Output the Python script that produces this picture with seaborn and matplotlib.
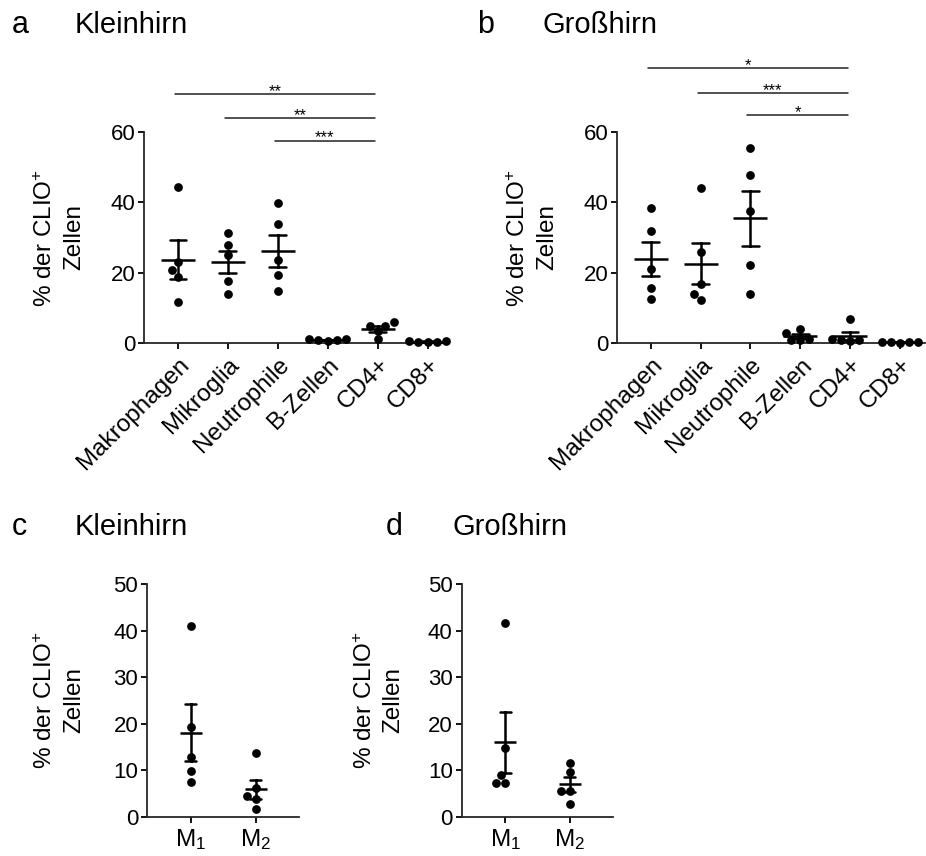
import numpy as np
import pandas as pd
import matplotlib
matplotlib.use("Agg")
import matplotlib.pyplot as plt
import seaborn as sns

# ---------------- data ----------------
cell_types = ["Makrophagen", "Mikroglia", "Neutrophile", "B-Zellen", "CD4+", "CD8+"]

# panel a: Kleinhirn
a_makrophagen = [44.2, 23.1, 20.8, 18.9, 11.8]
a_mikroglia = [31.2, 27.8, 25.0, 17.6, 13.9]
a_neutrophile = [39.7, 33.7, 23.6, 19.3, 14.8]
a_bzellen = [1.2, 0.9, 0.6, 1.1, 0.8]
a_cd4 = [6.0, 4.8, 5.0, 3.6, 1.1]
a_cd8 = [0.6, 0.4, 0.5, 0.3, 0.7]

# panel b: Großhirn
b_makrophagen = [38.3, 31.8, 21.1, 15.8, 12.6]
b_mikroglia = [44.1, 25.8, 16.8, 14.0, 12.3]
b_neutrophile = [55.5, 47.6, 37.6, 22.2, 14.1]
b_bzellen = [4.1, 3.0, 1.2, 1.0, 0.8]
b_cd4 = [6.8, 1.2, 1.0, 0.8, 0.6]
b_cd8 = [0.4, 0.3, 0.2, 0.3, 0.4]

macro_types = ["M1", "M2"]
macro_labels = ["M$_1$", "M$_2$"]
# panel c: Kleinhirn
c_m1 = [40.9, 19.2, 12.9, 9.9, 7.5]
c_m2 = [13.6, 6.2, 4.4, 3.7, 1.7]
# panel d: Großhirn
d_m1 = [41.7, 14.7, 9.0, 7.3, 7.3]
d_m2 = [11.6, 9.6, 5.5, 5.5, 2.7]

# significance brackets (start category, end category, label)
a_sig_start = [0, 1, 2]
a_sig_end = [4, 4, 4]
a_sig_text = ["**", "**", "***"]
b_sig_start = [0, 1, 2]
b_sig_end = [4, 4, 4]
b_sig_text = ["*", "***", "*"]


def to_frame(cats, series):
    rows = []
    for c, vals in zip(cats, series):
        for v in vals:
            rows.append((c, v))
    return pd.DataFrame(rows, columns=["cat", "val"])


df_a = to_frame(cell_types, [a_makrophagen, a_mikroglia, a_neutrophile, a_bzellen, a_cd4, a_cd8])
df_b = to_frame(cell_types, [b_makrophagen, b_mikroglia, b_neutrophile, b_bzellen, b_cd4, b_cd8])
df_c = to_frame(macro_types, [c_m1, c_m2])
df_d = to_frame(macro_types, [d_m1, d_m2])

# ---------------- style ----------------
sns.set_theme(style="ticks")
plt.rcParams["font.family"] = ["Liberation Sans", "DejaVu Sans"]
plt.rcParams["mathtext.fontset"] = "custom"
plt.rcParams["mathtext.rm"] = "Liberation Sans"
plt.rcParams["mathtext.it"] = "Liberation Sans:italic"
plt.rcParams["mathtext.bf"] = "Liberation Sans:bold"
plt.rcParams["axes.linewidth"] = 1.3
plt.rcParams["xtick.major.width"] = 1.3
plt.rcParams["ytick.major.width"] = 1.3
plt.rcParams["xtick.major.size"] = 4.5
plt.rcParams["ytick.major.size"] = 4.5
plt.rcParams["text.color"] = "black"
plt.rcParams["axes.labelcolor"] = "black"
plt.rcParams["xtick.color"] = "black"
plt.rcParams["ytick.color"] = "black"

W, H = 926, 856
fig = plt.figure(figsize=(W / 100, H / 100), dpi=100)


def px_axes(left, top, right, bottom):
    return fig.add_axes([left / W, 1 - bottom / H, (right - left) / W, (bottom - top) / H])


ax_a = px_axes(144.3, 131.7, 445, 343.3)
ax_b = px_axes(617.3, 131.7, 925, 343.3)
ax_c = px_axes(147.3, 584, 299.3, 816.7)
ax_d = px_axes(461.7, 584, 613.3, 816.7)

TICK_FS = 16
LABEL_FS = 17.5


def draw_panel(ax, df, order, labels, ymax, ystep, xlim, mean_w, capsize, rotate):
    sns.swarmplot(data=df, x="cat", y="val", order=order, color="black", size=6.3,
                  ax=ax, zorder=3)
    sns.pointplot(data=df, x="cat", y="val", order=order, errorbar="se", capsize=capsize,
                  color="black", markers="_", linestyles="none", markersize=mean_w,
                  markeredgewidth=1.8, err_kws={"linewidth": 1.8}, ax=ax, zorder=4)
    for coll in ax.collections:
        coll.set_clip_on(False)
    for ln in ax.lines:
        ln.set_clip_on(False)
    ax.set_ylim(0, ymax)
    ax.set_yticks(np.arange(0, ymax + 1, ystep))
    ax.set_xlim(*xlim)
    ax.set_xticks(range(len(order)))
    if rotate:
        ax.set_xticklabels(labels, rotation=45, ha="right", rotation_mode="anchor",
                           fontsize=LABEL_FS)
    else:
        ax.set_xticklabels(labels, fontsize=LABEL_FS)
    ax.tick_params(axis="y", labelsize=TICK_FS, pad=2)
    ax.tick_params(axis="x", pad=3)
    ax.set_xlabel("")
    ax.set_ylabel("% der CLIO$^{+}$\nZellen", fontsize=LABEL_FS, linespacing=1.35)
    sns.despine(ax=ax)


draw_panel(ax_a, df_a, cell_types, cell_types, 60, 20, (-0.67, 5.35), 23.8, 0.33, True)
draw_panel(ax_b, df_b, cell_types, cell_types, 60, 20, (-0.67, 5.5), 23.8, 0.33, True)
draw_panel(ax_c, df_c, macro_types, macro_labels, 50, 10, (-0.67, 1.67), 15.8, 0.17, False)
draw_panel(ax_d, df_d, macro_types, macro_labels, 50, 10, (-0.67, 1.67), 15.8, 0.17, False)

# y-label placement (right edge of label block, axes coords)
ax_a.yaxis.set_label_coords(-59 / 300.7, 0.5)
ax_b.yaxis.set_label_coords(-59 / 307.7, 0.5)
ax_c.yaxis.set_label_coords(-62 / 152.0, 0.5)
ax_d.yaxis.set_label_coords(-57 / 151.6, 0.5)


def brackets(ax, starts, ends, texts, ys):
    for s, e, t, y in zip(starts, ends, texts, ys):
        ax.plot([s - 0.06, e - 0.05], [y, y], color="#222222", lw=1.1, clip_on=False)
        ax.annotate(t, xy=((s - 0.06 + e - 0.05) / 2, y), xytext=(0, -1.5),
                    textcoords="offset points", ha="center", va="baseline",
                    fontsize=12, annotation_clip=False)


brackets(ax_a, a_sig_start, a_sig_end, a_sig_text, [70.8, 63.9, 57.5])
brackets(ax_b, b_sig_start, b_sig_end, b_sig_text, [78.0, 71.1, 64.7])

# panel letters and titles
TITLE_FS = 21
for x_letter, x_title, y_base, letter, title in [
    (12, 75, 33, "a", "Kleinhirn"),
    (477, 543, 33, "b", "Großhirn"),
    (12, 75, 535, "c", "Kleinhirn"),
    (386, 452, 535, "d", "Großhirn"),
]:
    fig.text(x_letter / W, 1 - y_base / H, letter, fontsize=TITLE_FS + 1, va="baseline")
    fig.text(x_title / W, 1 - y_base / H, title, fontsize=TITLE_FS, va="baseline")

fig.savefig("out.png", dpi=100)
